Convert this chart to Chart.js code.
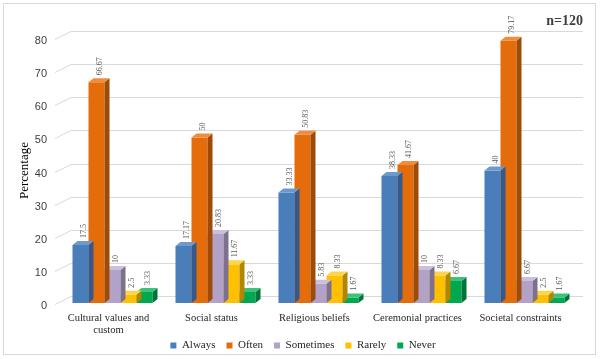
<!DOCTYPE html>
<html>
<head>
<meta charset="utf-8">
<script src="https://cdn.jsdelivr.net/npm/chart.js@4"></script>
<style>
html,body{margin:0;padding:0;background:#fff;}
canvas{display:block;}
</style>
</head>
<body>
<canvas id="c" width="600" height="359"></canvas>
<script>
// ---- data ----
const categories = [['Cultural values and', 'custom'], 'Social status', 'Religious beliefs', 'Ceremonial practices', 'Societal constraints'];
const seriesNames = ['Always', 'Often', 'Sometimes', 'Rarely', 'Never'];
const always = [17.5, 17.17, 33.33, 38.33, 40];
const often = [66.67, 50, 50.83, 41.67, 79.17];
const sometimes = [10, 20.83, 5.83, 10, 6.67];
const rarely = [2.5, 11.67, 8.33, 8.33, 2.5];
const never = [3.33, 3.33, 1.67, 6.67, 1.67];
const yMin = 0, yMax = 80, yStep = 10;
const sampleNote = 'n=120';
const yTitle = 'Percentage';

// ---- styles ----
const frontColors = ['#4a7ebb', '#e46c0a', '#b3a2c7', '#ffc000', '#00a84f'];
const sideColors  = ['#34598a', '#9e4b07', '#7d718f', '#b38600', '#007537'];
const topColors   = ['#6f98cc', '#f08c3c', '#cbbfdb', '#ffd34d', '#3cc27a'];
const DX = 5, DY = 4;

const seriesValues = [always, often, sometimes, rarely, never];

const threeD = {
  id: 'threeD',
  afterLayout(chart) {
    // let the x tick labels use the space down to the legend (second line of wrapped label)
    chart.scales.x.bottom = chart.height;
    if (chart.legend) {
      chart.legend.left += 15;
      chart.legend.right += 15;
      chart.legend.top += 2;
      chart.legend.bottom += 2;
    }
  },
  beforeDraw(chart) {
    const ctx = chart.ctx;
    ctx.save();
    ctx.fillStyle = '#ffffff';
    ctx.fillRect(0, 0, chart.width, chart.height);
    ctx.strokeStyle = '#d9d9d9';
    ctx.lineWidth = 1;
    ctx.strokeRect(3.5, 3.5, 592, 351);
    ctx.restore();
  },
  beforeDatasetsDraw(chart) {
    const ctx = chart.ctx, ys = chart.scales.y, area = chart.chartArea;
    ctx.save();
    ctx.strokeStyle = '#d9d9d9';
    ctx.lineWidth = 1;
    ys.ticks.forEach(t => {
      const y = Math.round(ys.getPixelForValue(t.value)) + 0.5;
      ctx.beginPath();
      ctx.moveTo(area.left - 6, y + 1);
      ctx.lineTo(area.left + 10, y - 7);
      ctx.lineTo(area.right + 7, y - 7);
      ctx.stroke();
    });
    ctx.restore();
  },
  afterDatasetDraw(chart, args) {
    const ctx = chart.ctx;
    const i = args.index;
    const meta = args.meta;
    ctx.save();
    meta.data.forEach(el => {
      const p = el.getProps(['x', 'y', 'base', 'width'], true);
      const l = p.x - p.width / 2, r = p.x + p.width / 2;
      ctx.fillStyle = sideColors[i];
      ctx.beginPath();
      ctx.moveTo(r, p.y);
      ctx.lineTo(r + DX, p.y - DY);
      ctx.lineTo(r + DX, p.base - DY);
      ctx.lineTo(r, p.base);
      ctx.closePath();
      ctx.fill();
      ctx.fillStyle = topColors[i];
      ctx.beginPath();
      ctx.moveTo(l, p.y);
      ctx.lineTo(l + DX, p.y - DY);
      ctx.lineTo(r + DX, p.y - DY);
      ctx.lineTo(r, p.y);
      ctx.closePath();
      ctx.fill();
    });
    ctx.restore();
  },
  afterDatasetsDraw(chart) {
    const ctx = chart.ctx;
    ctx.save();
    ctx.font = '8px "Liberation Serif"';
    ctx.fillStyle = '#595959';
    ctx.textAlign = 'left';
    ctx.textBaseline = 'middle';
    chart.data.datasets.forEach((ds, i) => {
      const meta = chart.getDatasetMeta(i);
      meta.data.forEach((el, j) => {
        const p = el.getProps(['x', 'y'], true);
        ctx.save();
        ctx.translate(p.x + DX / 2 + 1, p.y - DY - 3);
        ctx.rotate(-Math.PI / 2);
        ctx.fillText(String(ds.data[j]), 0, 0);
        ctx.restore();
      });
    });
    ctx.font = 'bold 14px "Liberation Serif"';
    ctx.fillStyle = '#404040';
    ctx.textAlign = 'right';
    ctx.textBaseline = 'alphabetic';
    ctx.fillText(sampleNote, 583, 25);
    ctx.restore();
  }
};

new Chart(document.getElementById('c'), {
  type: 'bar',
  data: {
    labels: categories,
    datasets: seriesNames.map((name, i) => ({
      label: name,
      data: seriesValues[i],
      backgroundColor: frontColors[i],
      borderWidth: 0,
      barPercentage: 1,
      categoryPercentage: 0.777
    }))
  },
  options: {
    responsive: false,
    animation: false,
    devicePixelRatio: 1,
    layout: { padding: { top: 38, right: 24, left: 0, bottom: 0 } },
    scales: {
      x: {
        grid: { display: false, drawTicks: false },
        border: { display: false },
        ticks: {
          font: { family: '"Liberation Serif"', size: 10.5, lineHeight: 1.15 },
          color: '#262626',
          padding: 9,
          labelOffset: -4,
          maxRotation: 0,
          autoSkip: false
        },
        afterFit(s) { s.height = 24; }
      },
      y: {
        min: yMin, max: yMax,
        grid: { display: false, drawTicks: false },
        border: { display: false },
        ticks: {
          stepSize: yStep,
          font: { family: '"Liberation Sans"', size: 11 },
          color: '#404040',
          padding: 14,
          labelOffset: 3
        },
        title: {
          display: true,
          text: yTitle,
          font: { family: '"Liberation Serif"', size: 13 },
          color: '#000000',
          padding: { top: 17, bottom: 0 }
        },
        afterFit(s) { s.width = 61; }
      }
    },
    plugins: {
      legend: {
        position: 'bottom',
        labels: {
          boxWidth: 6,
          boxHeight: 6,
          padding: 11,
          font: { family: '"Liberation Serif"', size: 11 },
          color: '#262626'
        }
      },
      tooltip: { enabled: false }
    }
  },
  plugins: [threeD]
});
</script>
</body>
</html>
